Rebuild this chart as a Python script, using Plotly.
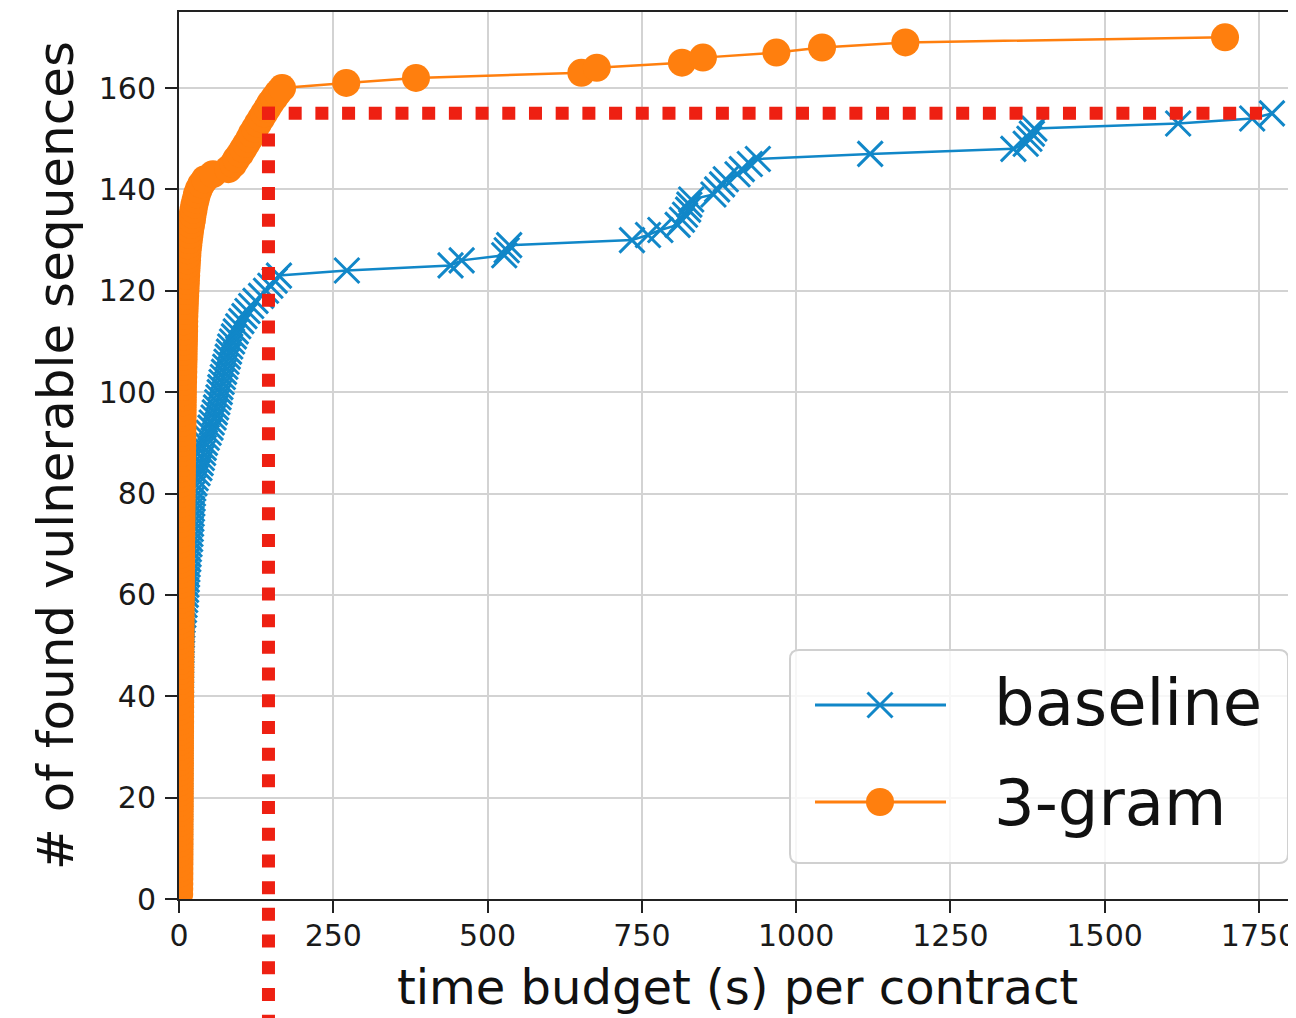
import plotly.graph_objects as go

# ---------------- data ----------------
SERIES_NAMES = ["baseline", "3-gram"]

BASELINE_TIME = [
    0.8, 0.9, 1.0, 1.0, 1.1, 1.2, 1.2, 1.3, 1.3, 1.4,
    1.4, 1.5, 1.5, 1.6, 1.6, 1.7, 1.7, 1.8, 1.8, 1.9,
    1.9, 2.0, 2.0, 2.1, 2.1, 2.2, 2.2, 2.3, 2.3, 2.4,
    2.4, 2.5, 2.5, 2.6, 2.6, 2.7, 2.8, 2.8, 2.9, 3.0,
    3.0, 3.1, 3.2, 3.3, 3.4, 3.5, 3.6, 3.8, 4.0, 4.2,
    4.4, 4.7, 5.0, 5.4, 5.8, 7.0, 8.0, 9.0, 10.0, 11.0,
    11.5, 12.0, 12.5, 13.0, 13.5, 14.0, 15.0, 15.5, 16.0, 17.0,
    18.0, 18.5, 19.0, 19.5, 20.0, 20.5, 21.0, 21.5, 22.0, 22.5,
    23.0, 25.0, 27.0, 30.0, 33.0, 35.0, 37.0, 39.0, 40.0, 42.0,
    45.0, 48.0, 51.0, 53.0, 56.0, 58.0, 60.0, 62.0, 64.0, 66.0,
    67.0, 69.0, 71.0, 73.0, 75.0, 77.0, 79.0, 81.0, 83.0, 86.0,
    89.0, 92.0, 96.0, 101.0, 106.0, 111.0, 117.0, 124.0, 133.0, 141.0,
    148.0, 155.0, 162.0, 272.0, 440.0, 458.0, 527.0, 531.0, 535.0, 734.0,
    760.0, 780.0, 808.0, 815.0, 820.0, 825.0, 827.0, 830.0, 866.0, 872.0,
    880.0, 886.0, 905.0, 912.0, 925.0, 938.0, 1120.0, 1352.0, 1372.0, 1378.0,
    1382.0, 1386.0, 1619.0, 1739.0, 1771.0,
]
BASELINE_COUNT = [
    1, 2, 3, 4, 5, 6, 7, 8, 9, 10,
    11, 12, 13, 14, 15, 16, 17, 18, 19, 20,
    21, 22, 23, 24, 25, 26, 27, 28, 29, 30,
    31, 32, 33, 34, 35, 36, 37, 38, 39, 40,
    41, 42, 43, 44, 45, 46, 47, 48, 49, 50,
    51, 52, 53, 54, 55, 56, 57, 58, 59, 60,
    61, 62, 63, 64, 65, 66, 67, 68, 69, 70,
    71, 72, 73, 74, 75, 76, 77, 78, 79, 80,
    81, 82, 83, 84, 85, 86, 87, 88, 89, 90,
    91, 92, 93, 94, 95, 96, 97, 98, 99, 100,
    101, 102, 103, 104, 105, 106, 107, 108, 109, 110,
    111, 112, 113, 114, 115, 116, 117, 118, 119, 120,
    121, 122, 123, 124, 125, 126, 127, 128, 129, 130,
    131, 132, 133, 134, 135, 136, 137, 138, 139, 140,
    141, 142, 143, 144, 145, 146, 147, 148, 149, 150,
    151, 152, 153, 154, 155,
]

GRAM3_TIME = [
    0.3, 0.4, 0.5, 0.5, 0.6, 0.6, 0.7, 0.7, 0.8, 0.8,
    0.9, 0.9, 1.0, 1.0, 1.0, 1.1, 1.1, 1.2, 1.2, 1.2,
    1.3, 1.3, 1.3, 1.4, 1.4, 1.4, 1.5, 1.5, 1.5, 1.6,
    1.6, 1.6, 1.7, 1.7, 1.8, 1.8, 1.8, 1.9, 1.9, 2.0,
    2.0, 2.0, 2.1, 2.1, 2.2, 2.2, 2.2, 2.3, 2.3, 2.4,
    2.4, 2.5, 2.5, 2.6, 2.6, 2.7, 2.7, 2.8, 2.9, 3.0,
    3.0, 3.1, 3.2, 3.2, 3.3, 3.4, 3.4, 3.5, 3.6, 3.6,
    3.7, 3.8, 3.8, 3.9, 4.0, 4.0, 4.1, 4.2, 4.3, 4.4,
    4.4, 4.5, 4.6, 4.7, 4.8, 4.9, 5.0, 5.1, 5.2, 5.3,
    5.4, 5.5, 5.6, 5.7, 5.8, 5.9, 6.0, 6.1, 6.2, 6.3,
    6.4, 6.6, 6.8, 7.0, 7.1, 7.3, 7.5, 7.6, 7.8, 8.0,
    8.1, 8.3, 8.4, 8.5, 8.7, 9.0, 9.3, 9.6, 10.0, 10.4,
    10.8, 11.2, 11.6, 12.0, 12.5, 13.0, 13.5, 14.0, 15.0, 16.0,
    17.0, 18.0, 19.5, 21.0, 22.0, 23.5, 25.0, 27.0, 29.0, 32.0,
    36.0, 42.0, 55.0, 80.0, 88.0, 93.0, 99.0, 104.0, 109.0, 114.0,
    118.0, 123.0, 128.0, 133.0, 138.0, 143.0, 148.0, 154.0, 160.0, 167.0,
    271.0, 384.0, 652.0, 677.0, 815.0, 849.0, 968.0, 1042.0, 1177.0, 1695.0,
]
GRAM3_COUNT = [
    1, 2, 3, 4, 5, 6, 7, 8, 9, 10,
    11, 12, 13, 14, 15, 16, 17, 18, 19, 20,
    21, 22, 23, 24, 25, 26, 27, 28, 29, 30,
    31, 32, 33, 34, 35, 36, 37, 38, 39, 40,
    41, 42, 43, 44, 45, 46, 47, 48, 49, 50,
    51, 52, 53, 54, 55, 56, 57, 58, 59, 60,
    61, 62, 63, 64, 65, 66, 67, 68, 69, 70,
    71, 72, 73, 74, 75, 76, 77, 78, 79, 80,
    81, 82, 83, 84, 85, 86, 87, 88, 89, 90,
    91, 92, 93, 94, 95, 96, 97, 98, 99, 100,
    101, 102, 103, 104, 105, 106, 107, 108, 109, 110,
    111, 112, 113, 114, 115, 116, 117, 118, 119, 120,
    121, 122, 123, 124, 125, 126, 127, 128, 129, 130,
    131, 132, 133, 134, 135, 136, 137, 138, 139, 140,
    141, 142, 143, 144, 145, 146, 147, 148, 149, 150,
    151, 152, 153, 154, 155, 156, 157, 158, 159, 160,
    161, 162, 163, 164, 165, 166, 167, 168, 169, 170,
]

X_TICKS = [0, 250, 500, 750, 1000, 1250, 1500, 1750]
Y_TICKS = [0, 20, 40, 60, 80, 100, 120, 140, 160]
X_RANGE = [0, 1810]
Y_RANGE = [0, 175]

# reference threshold (red dotted lines)
THRESH_TIME = 145
THRESH_COUNT = 155
THRESH_END_TIME = 1755

X_TITLE = "time budget (s) per contract"
Y_TITLE = "# of found vulnerable sequences"

# ---------------- styling / layout ----------------
PAGE_OFF = 8                      # default body margin of the html page
W, H = 1296 - PAGE_OFF, 1018 - PAGE_OFF
M_L, M_T = 179 - PAGE_OFF, 12 - PAGE_OFF
PLOT_W, PLOT_H = 1117, 887
M_R = W - M_L - PLOT_W
M_B = H - M_T - PLOT_H

BLUE = "#1187c8"
ORANGE = "#ff7f0e"
RED = "#ee2012"
FONT = "DejaVu Sans"
AXIS_COLOR = "#222222"
GRID_COLOR = "#d3d3d3"

RED_W = 13


# page-pixel -> paper conversions (page coords as measured on the reference)
def pxx(px):
    return (px - PAGE_OFF - M_L) / PLOT_W


def pxy(py):
    return (M_T + PLOT_H - (py - PAGE_OFF)) / PLOT_H


fig = go.Figure()

fig.add_trace(go.Scatter(
    x=BASELINE_TIME, y=BASELINE_COUNT, name=SERIES_NAMES[0], mode="lines+markers",
    line=dict(color=BLUE, width=2.5),
    marker=dict(symbol="x-thin", size=25, color=BLUE, line=dict(color=BLUE, width=3)),
    showlegend=False,
))
fig.add_trace(go.Scatter(
    x=GRAM3_TIME, y=GRAM3_COUNT, name=SERIES_NAMES[1], mode="lines+markers",
    line=dict(color=ORANGE, width=2.5),
    marker=dict(symbol="circle", size=28, color=ORANGE, line=dict(width=0)),
    showlegend=False,
))

shapes = []
x_per_px = (X_RANGE[1] - X_RANGE[0]) / PLOT_W
y_per_px = (Y_RANGE[1] - Y_RANGE[0]) / PLOT_H
shapes.append(dict(
    type="line", xref="x", yref="y",
    x0=THRESH_TIME - RED_W / 2 * x_per_px, x1=THRESH_END_TIME,
    y0=THRESH_COUNT, y1=THRESH_COUNT,
    line=dict(color=RED, width=RED_W, dash="13px,13.7px"), layer="above",
))
shapes.append(dict(
    type="line", xref="x", yref="y domain",
    x0=THRESH_TIME, x1=THRESH_TIME,
    y0=(THRESH_COUNT + RED_W / 2 * y_per_px) / Y_RANGE[1], y1=-0.3,
    line=dict(color=RED, width=RED_W, dash="13px,13.7px"), layer="above",
))

# ---- legend (drawn by hand to match matplotlib's look) ----
L_LEFT, L_RIGHT, L_TOP, L_BOT, RAD = 790, 1288, 650, 863, 9
x0, x1 = pxx(L_LEFT), pxx(L_RIGHT)
y0, y1 = pxy(L_BOT), pxy(L_TOP)
rx, ry = RAD / PLOT_W, RAD / PLOT_H
path = (f"M{x0+rx},{y0} L{x1-rx},{y0} Q{x1},{y0} {x1},{y0+ry} "
        f"L{x1},{y1-ry} Q{x1},{y1} {x1-rx},{y1} L{x0+rx},{y1} "
        f"Q{x0},{y1} {x0},{y1-ry} L{x0},{y0+ry} Q{x0},{y0} {x0+rx},{y0} Z")
shapes.append(dict(type="path", xref="paper", yref="paper", path=path,
                   fillcolor="rgba(255,255,255,0.82)",
                   line=dict(color="#d0d0d0", width=2), layer="above"))

ENTRY_Y = [705, 802]
LINE_X0, LINE_X1, MARK_X, TEXT_X = 815, 946, 880, 992
for yy, col in zip(ENTRY_Y, [BLUE, ORANGE]):
    shapes.append(dict(type="line", xref="paper", yref="paper",
                       x0=pxx(LINE_X0), x1=pxx(LINE_X1), y0=pxy(yy), y1=pxy(yy),
                       line=dict(color=col, width=3), layer="above"))
for sgn in (1, -1):
    shapes.append(dict(type="line", xref="paper", yref="paper",
                       xsizemode="pixel", ysizemode="pixel",
                       xanchor=pxx(MARK_X), yanchor=pxy(ENTRY_Y[0]),
                       x0=-12.5, x1=12.5, y0=-12.5 * sgn, y1=12.5 * sgn,
                       line=dict(color=BLUE, width=3), layer="above"))
shapes.append(dict(type="circle", xref="paper", yref="paper",
                   xsizemode="pixel", ysizemode="pixel",
                   xanchor=pxx(MARK_X), yanchor=pxy(ENTRY_Y[1]),
                   x0=-14, x1=14, y0=-14, y1=14,
                   fillcolor=ORANGE, line=dict(width=0), layer="above"))

annotations = []
for yy, name in zip([ENTRY_Y[0] - 2, ENTRY_Y[1] + 1], SERIES_NAMES):
    annotations.append(dict(
        xref="paper", yref="paper", x=pxx(TEXT_X), y=pxy(yy),
        xanchor="left", yanchor="middle", showarrow=False, text=name,
        font=dict(family=FONT, size=64, color="#111111"),
    ))

axis_common = dict(
    showgrid=True, gridcolor=GRID_COLOR, gridwidth=2,
    showline=True, linecolor=AXIS_COLOR, linewidth=2,
    ticks="outside", ticklen=12, tickwidth=2, tickcolor=AXIS_COLOR,
    tickfont=dict(family=FONT, size=30, color="#1a1a1a"),
    zeroline=False, automargin=False,
)

fig.update_layout(
    width=W, height=H,
    margin=dict(l=M_L, r=M_R, t=M_T, b=M_B, pad=0),
    paper_bgcolor="white", plot_bgcolor="white",
    font=dict(family=FONT),
    showlegend=False,
    xaxis=dict(range=X_RANGE, tickvals=X_TICKS, mirror=True, ticklabelstandoff=-3,
               ticklabeloverflow="allow",
               title=dict(text=X_TITLE, font=dict(family=FONT, size=48, color="#111111"),
                          standoff=18),
               **axis_common),
    yaxis=dict(range=Y_RANGE, tickvals=Y_TICKS, mirror=False, ticklabelstandoff=3,
               title=dict(text=Y_TITLE, font=dict(family=FONT, size=50, color="#111111"),
                          standoff=9),
               **axis_common),
    shapes=shapes,
    annotations=annotations,
)

fig.write_html("out.html")
